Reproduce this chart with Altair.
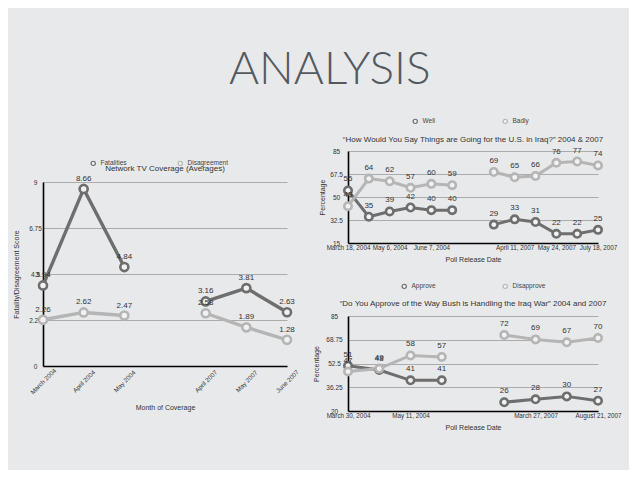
import altair as alt
import pandas as pd

FONT = "Liberation Sans"
DARK = "#6e6e6e"
LIGHT = "#b5b5b5"
BG = "#e8e9eb"
TXT = "#333333"

# ---------------- Left chart: Network TV Coverage (Averages)
left_series = ["Fatalities", "Disagreement"]
left_months = ["March 2004", "April 2004", "May 2004", "April 2007", "May 2007", "June 2007"]
left_pos = [0, 1, 2, 4, 5, 6]
left_period = ["2004", "2004", "2004", "2007", "2007", "2007"]
fatalities = [3.94, 8.66, 4.84, 3.16, 3.81, 2.63]
disagreement = [2.26, 2.62, 2.47, 2.58, 1.89, 1.28]
left_yticks = [0, 2.25, 4.5, 6.75, 9]

# ---------------- Top right: How would you say things are going
tr_series = ["Well", "Badly"]
tr_pos = [0, 1, 2, 3, 4, 5, 7, 8, 9, 10, 11, 12]
tr_period = ["2004"] * 6 + ["2007"] * 6
well = [55, 35, 39, 42, 40, 40, 29, 33, 31, 22, 22, 25]
badly = [43, 64, 62, 57, 60, 59, 69, 65, 66, 76, 77, 74]
tr_tick_pos = [0, 2, 4, 8, 10, 12]
tr_tick_labels = ["March 18, 2004", "May 6, 2004", "June 7, 2004",
                  "April 11, 2007", "May 24, 2007", "July 18, 2007"]
tr_yticks = [15, 32.5, 50, 67.5, 85]

# ---------------- Bottom right: Do you approve
br_series = ["Approve", "Disapprove"]
br_pos = [0, 1, 2, 3, 5, 6, 7, 8]
br_period = ["2004"] * 4 + ["2007"] * 4
approve = [51, 48, 41, 41, 26, 28, 30, 27]
disapprove = [47, 49, 58, 57, 72, 69, 67, 70]
br_tick_pos = [0, 2, 6, 8]
br_tick_labels = ["March 30, 2004", "May 11, 2004", "March 27, 2007", "August 21, 2007"]
br_yticks = [20, 36.25, 52.5, 68.75, 85]


def long_df(pos, period, names, s1, s2):
    rows = []
    for name, vals in zip(names, [s1, s2]):
        for p, per, v in zip(pos, period, vals):
            rows.append({"pos": p, "period": per, "series": name, "value": v})
    return pd.DataFrame(rows)


def label_expr(positions, labels):
    expr = "''"
    for p, l in reversed(list(zip(positions, labels))):
        expr = f"datum.value == {p} ? '{l}' : ({expr})"
    return expr


def panel(df, names, width, height, xdomain, xticks, xlabels, ydomain, yticks,
          xtitle, ytitle, title, title_offset, xaxis_kw, yaxis_kw, legend_kw,
          text_dy, text_fmt, line_w, yrange=None, pt_size=55):
    color = alt.Color(
        "series:N",
        scale=alt.Scale(domain=names, range=[DARK, LIGHT]),
        legend=alt.Legend(title=None, orient="none", direction="horizontal",
                          symbolType="circle", symbolSize=18, symbolStrokeWidth=1.2,
                          symbolFillColor="#eeeeee", labelFont=FONT, labelFontSize=6.5,
                          labelColor="#444444", labelOffset=4, padding=0, **legend_kw),
    )
    x = alt.X(
        "pos:Q",
        scale=alt.Scale(domain=xdomain, nice=False, zero=False),
        axis=alt.Axis(values=xticks, labelExpr=label_expr(xticks, xlabels), grid=False,
                      ticks=False, domainColor="black", domainWidth=1.6,
                      labelFont=FONT, labelFontSize=6.3, labelColor=TXT,
                      labelFlush=False,
                      titleFont=FONT, titleFontSize=7, titleFontWeight="normal",
                      titleColor=TXT, labelOverlap=False, **xaxis_kw),
        title=xtitle,
    )
    ys = dict(domain=ydomain, nice=False, zero=False)
    if yrange is not None:
        ys["range"] = yrange
    y = alt.Y(
        "value:Q",
        scale=alt.Scale(**ys),
        axis=alt.Axis(values=yticks, format=".2~f", grid=True, gridColor="#9a9a9a",
                      gridWidth=0.8, ticks=False, domainColor="black", domainWidth=1.6,
                      labelFont=FONT, labelFontSize=6.5, labelColor=TXT,
                      labelAlign="center", labelBaseline="middle",
                      titleFont=FONT, titleFontSize=7, titleFontWeight="normal",
                      titleColor=TXT, labelOverlap=False, **yaxis_kw),
        title=ytitle,
    )
    base = alt.Chart(df).encode(x=x, y=y)
    line = base.mark_line(strokeWidth=line_w).encode(color=color, detail="period:N")
    pts = base.mark_point(filled=False, fill="#f2f2f2", fillOpacity=1, opacity=1,
                          size=pt_size, strokeWidth=2.6).encode(color=color)
    txt = base.mark_text(dy=text_dy, font=FONT, fontSize=8, color=TXT).encode(
        text=alt.Text("value:Q", format=text_fmt))
    return alt.layer(line, pts, txt).properties(
        width=width, height=height,
        title=alt.TitleParams(title, font=FONT, fontSize=8, fontWeight="normal",
                              color=TXT, offset=title_offset, anchor="middle",
                              frame="group"),
    )


left_df = long_df(left_pos, left_period, left_series, fatalities, disagreement)
tr_df = long_df(tr_pos, tr_period, tr_series, well, badly)
br_df = long_df(br_pos, br_period, br_series, approve, disapprove)

left = panel(
    left_df, left_series, 244, 215, [0, 6], left_pos, left_months, [0, 9], left_yticks,
    "Month of Coverage", "Fatality/Disagreement Score", "Network TV Coverage (Averages)", -22,
    dict(labelAngle=-45, labelAlign="center", labelBaseline="middle", labelPadding=15,
         titlePadding=8),
    dict(labelPadding=8, titlePadding=9),
    dict(legendX=47, legendY=9, columnPadding=48),
    -10, ".2f", 3.4, yrange=[215, 31], pt_size=65,
)

tr = panel(
    tr_df, tr_series, 250, 92, [0, 12], tr_tick_pos, tr_tick_labels, [15, 85], tr_yticks,
    "Poll Release Date", "Percentage",
    "\u201cHow Would You Say Things are Going for the U.S. in Iraq?\u201d 2004 & 2007", -26,
    dict(labelPadding=1, titlePadding=5),
    dict(labelPadding=12, titlePadding=4),
    dict(legendX=64, legendY=-33, columnPadding=64),
    -11, "d", 3,
)

br = panel(
    br_df, br_series, 250, 95, [0, 8], br_tick_pos, br_tick_labels, [20, 85], br_yticks,
    "Poll Release Date", "Percentage",
    "\u201cDo You Approve of the Way Bush is Handling the Iraq War\u201d 2004 and 2007", -25,
    dict(labelPadding=1, titlePadding=5),
    dict(labelPadding=14, titlePadding=6),
    dict(legendX=53, legendY=-33, columnPadding=64),
    -11, "d", 3,
)

right_col = alt.vconcat(tr, br, spacing=73, bounds="flush").resolve_scale(color="independent")

chart = alt.hconcat(left, right_col, spacing=61, bounds="flush").properties(
    title=alt.TitleParams("ANALYSIS", font="Lato", fontSize=46, fontWeight=300,
                          color="#55595e", anchor="middle", offset=24, dx=13),
).resolve_scale(color="independent").configure(
    padding={"left": 4, "top": 39, "right": 8, "bottom": 39},
    background=BG,
).configure_view(stroke=None)

chart.save("out.html", embed_options={"renderer": "svg", "actions": False})
